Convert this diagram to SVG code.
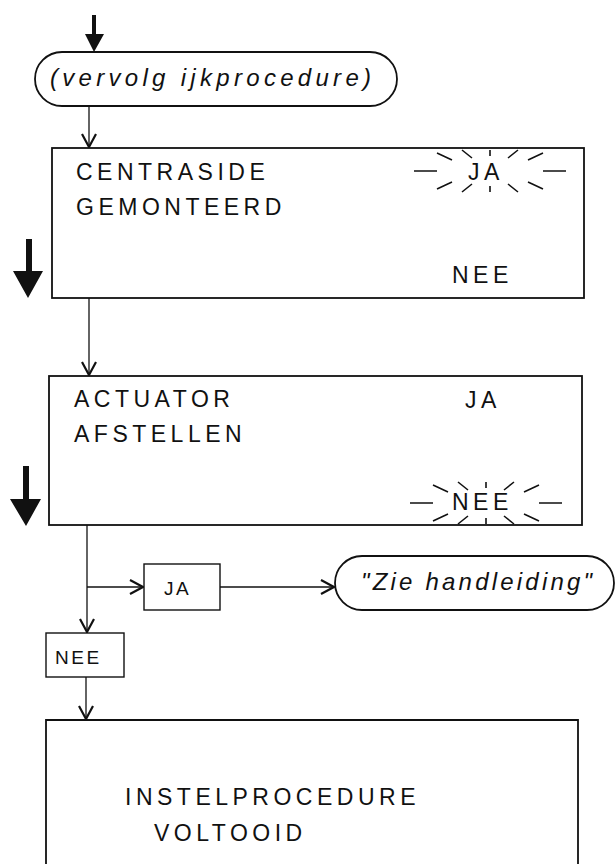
<svg xmlns="http://www.w3.org/2000/svg" width="616" height="864" viewBox="0 0 616 864">
<style>
.box{fill:none;stroke:#111;stroke-width:1.8}
.t{font-family:"Liberation Sans",Arial,sans-serif;font-size:23px;letter-spacing:4.5px;fill:#111}
.ts{font-family:"Liberation Sans",Arial,sans-serif;font-size:19px;letter-spacing:2.5px;fill:#111}
.ti{font-family:"Liberation Sans",Arial,sans-serif;font-size:24px;font-style:italic;fill:#111}
.c{fill:none;stroke:#111;stroke-width:1.3}
.ray{stroke:#111;stroke-width:1.6;fill:none}
.big{fill:#111}
</style>
<defs>
<marker id="v" markerUnits="userSpaceOnUse" markerWidth="16" markerHeight="16" viewBox="0 0 16 16" refX="15" refY="8" orient="auto">
<path d="M2,1 L15,8 L2,15" fill="none" stroke="#111" stroke-width="2.2"/>
</marker>
<g id="burst" class="ray">
<path d="M-76,0H-53M53,0H76M-53,-18L-38,-11M38,-11L53,-18M-28,-21L-18,-13M18,-13L28,-21M0,-21V-15M-53,18L-38,11M38,11L53,18M-28,21L-18,13M18,13L28,21M0,21V15"/>
</g>
</defs>

<g id="indicators">
<path class="big" d="M92,15H96V34H104L94,52L85,34H92Z"/>
<path class="big" d="M26,239H32V271H43L28,298L13,271H26Z"/>
<path class="big" d="M23,466H29V499H41L26,526L10,499H23Z"/>
</g>

<g id="connectors">
<path class="c" d="M89,106V147" marker-end="url(#v)"/>
<path class="c" d="M89,298V375" marker-end="url(#v)"/>
<path class="c" d="M87,525V632" marker-end="url(#v)"/>
<path class="c" d="M87,587H143" marker-end="url(#v)"/>
<path class="c" d="M220,587H334" marker-end="url(#v)"/>
<path class="c" d="M86,677V719" marker-end="url(#v)"/>
</g>

<g id="start">
<rect class="box" x="35" y="52" width="362" height="54" rx="27"/>
<text class="ti" x="50" y="86" letter-spacing="4.3">(vervolg ijkprocedure)</text>
</g>

<g id="centraside">
<rect class="box" x="52" y="148" width="532" height="150"/>
<text class="t" x="76" y="180">CENTRASIDE</text>
<text class="t" x="76" y="215">GEMONTEERD</text>
<use href="#burst" x="490" y="171"/>
<text class="t" x="468" y="180">JA</text>
<text class="t" x="452" y="283">NEE</text>
</g>

<g id="actuator">
<rect class="box" x="49" y="376" width="533" height="149"/>
<text class="t" x="74" y="407">ACTUATOR</text>
<text class="t" x="74" y="442">AFSTELLEN</text>
<text class="t" x="465" y="408">JA</text>
<use href="#burst" x="486" y="503"/>
<text class="t" x="452" y="510">NEE</text>
</g>

<g id="ja">
<rect class="box" x="144" y="564" width="76" height="46" style="stroke-width:1.4"/>
<text class="ts" x="164" y="595">JA</text>
</g>

<g id="handleiding">
<rect class="box" x="335" y="556" width="279" height="54" rx="27"/>
<text class="ti" x="361" y="590" letter-spacing="3.2">"Zie handleiding"</text>
</g>

<g id="nee">
<rect class="box" x="46" y="633" width="78" height="44" style="stroke-width:1.4"/>
<text class="ts" x="55" y="664">NEE</text>
</g>

<g id="voltooid">
<path class="box" d="M46,870V720H578V870"/>
<text class="t" x="125" y="805" letter-spacing="4.8">INSTELPROCEDURE</text>
<text class="t" x="154" y="841" letter-spacing="4.8">VOLTOOID</text>
</g>
</svg>
